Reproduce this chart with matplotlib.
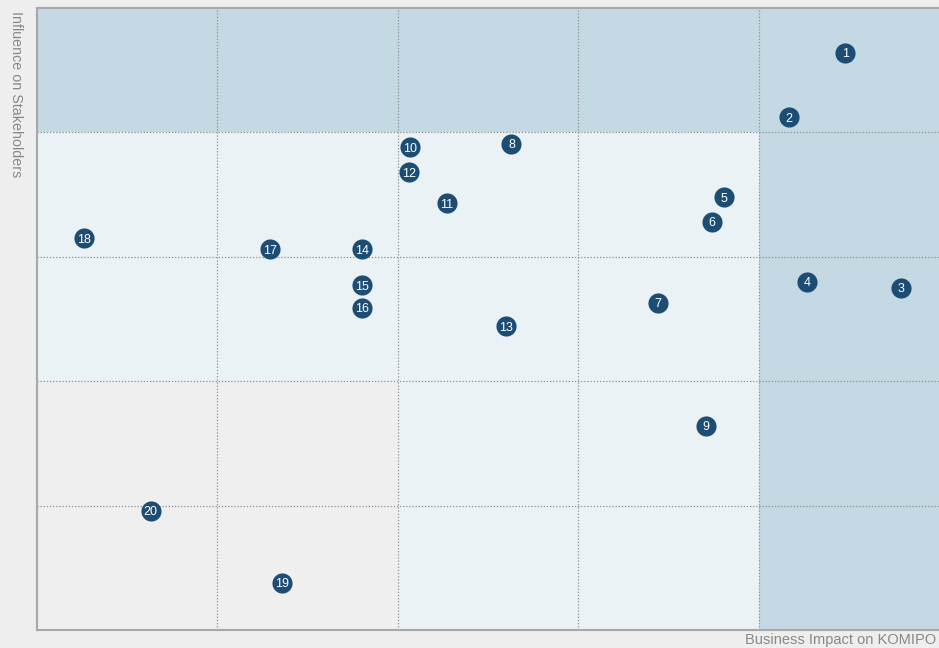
import numpy as np
import matplotlib
matplotlib.use("Agg")
import matplotlib.pyplot as plt
from matplotlib.patches import Rectangle

plt.rcParams['font.family'] = ['Liberation Sans', 'DejaVu Sans']

# issue number, business impact (x), influence on stakeholders (y)
ids = [1, 2, 3, 4, 5, 6, 7, 8, 9, 10, 11, 12, 13, 14, 15, 16, 17, 18, 19, 20]
impact = [4.48, 4.17, 4.79, 4.27, 3.81, 3.74, 3.44, 2.63, 3.71, 2.07,
          2.27, 2.06, 2.60, 1.80, 1.80, 1.80, 1.29, 0.26, 1.36, 0.63]
influence = [4.64, 4.12, 2.75, 2.80, 3.48, 3.28, 2.63, 3.91, 1.64, 3.88,
             3.43, 3.68, 2.44, 3.06, 2.77, 2.59, 3.06, 3.15, 0.38, 0.96]

# cell shading, rows from bottom to top: 0 = grey, 1 = light, 2 = dark
cell_levels = [
    [0, 0, 1, 1, 2],
    [0, 0, 1, 1, 2],
    [1, 1, 1, 1, 2],
    [1, 1, 1, 1, 2],
    [2, 2, 2, 2, 2],
]
level_colors = {0: '#efefef', 1: '#eaf2f6', 2: '#c4d9e3'}

BG = '#eeeeee'
DOT = '#1e4d74'

fig = plt.figure(figsize=(9.39, 6.48), dpi=100, facecolor=BG)
ax = fig.add_axes([37 / 939, 18 / 648, 902 / 939, 622 / 648])
ax.set_facecolor(BG)

for r, row in enumerate(cell_levels):
    for c, lvl in enumerate(row):
        ax.add_patch(Rectangle((c, r), 1, 1, facecolor=level_colors[lvl],
                               edgecolor='none', zorder=0))

for v in range(1, 5):
    ax.axvline(v, color='#8f8f8f', lw=0.9, ls=(0, (1, 1.5)), zorder=1)
    ax.axhline(v, color='#8f8f8f', lw=0.9, ls=(0, (1, 1.5)), zorder=1)

ax.scatter(impact, influence, s=210, color=DOT, zorder=3, linewidths=0)
for i, x, y in zip(ids, impact, influence):
    ax.text(x, y, str(i), color='white', fontsize=9, ha='center',
            va='center_baseline', zorder=4)

ax.set_xlim(0, 5)
ax.set_ylim(0, 5)
ax.set_xticks([])
ax.set_yticks([])
for side in ['left', 'bottom', 'top']:
    ax.spines[side].set_color('#a8a8a8')
    ax.spines[side].set_linewidth(1.5)
ax.spines['right'].set_visible(False)

fig.text(936 / 939, 1 / 648, 'Business Impact on KOMIPO', ha='right',
         va='bottom', fontsize=10.5, color='#888888')
fig.text(16 / 939, 1 - 11 / 648, 'Influence on Stakeholders', ha='center',
         va='top', rotation=270, fontsize=10.3, color='#888888')

fig.savefig('out.png', dpi=100, facecolor=BG)
